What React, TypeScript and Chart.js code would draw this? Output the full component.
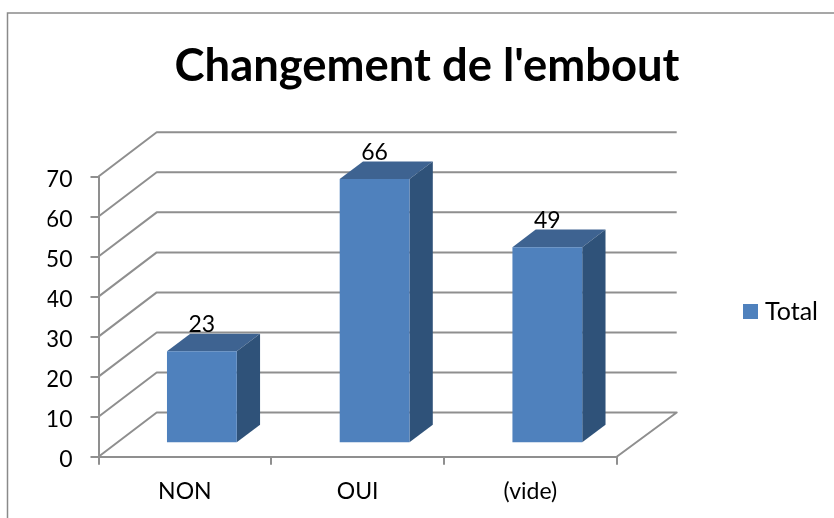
import React, { useEffect, useRef } from "react";
import { Chart, registerables } from "chart.js";

Chart.register(...registerables);

const categories = ["NON", "OUI", "(vide)"];
const seriesName = "Total";
const totals = [23, 66, 49];
const yMax = 70;
const yStep = 10;

const FONT = "Lato, Carlito, sans-serif";
const LINE = "#8f8f8f";
const FRONT = "#4F81BD";
const TOP = "#3E6391";
const SIDE = "#2F5279";
const WALL_DX = 58.2;
const WALL_DY = -44.2;
const WALL_RIGHT_EXTRA = 1.8;
const BAR_DX = 17;
const BAR_DY = -13.4;
const BAR_DEPTH_X = 23.3;
const BAR_DEPTH_Y = -17.6;
const LEGEND_LEFT = 748.5;
const LEGEND_CENTER_Y = 311.5;

const scene = {
  id: "scene",
  beforeDraw(chart: any) {
    const { ctx, width, height } = chart;
    ctx.save();
    ctx.strokeStyle = "#8a8a8a";
    ctx.lineWidth = 1.5;
    ctx.beginPath();
    ctx.moveTo(7.5, height);
    ctx.lineTo(7.5, 13);
    ctx.lineTo(width, 13);
    ctx.stroke();
    ctx.restore();
  },
  beforeDatasetsDraw(chart: any) {
    const { ctx, chartArea, scales } = chart;
    const { left, right } = chartArea;
    ctx.save();
    ctx.strokeStyle = LINE;
    ctx.lineWidth = 2;
    ctx.lineJoin = "round";
    for (const t of scales.y.ticks) {
      const y = scales.y.getPixelForValue(t.value);
      const backRight = right + WALL_DX + WALL_RIGHT_EXTRA;
      ctx.beginPath();
      ctx.moveTo(left, y);
      ctx.lineTo(left + WALL_DX, y + WALL_DY);
      ctx.lineTo(backRight, y + WALL_DY);
      if (t.value === 0) ctx.lineTo(right, y);
      ctx.stroke();
    }
    ctx.restore();

    ctx.save();
    ctx.translate(BAR_DX, BAR_DY);
    for (const bar of chart.getDatasetMeta(0).data) {
      const { x, y, base, width: w } = bar.getProps(["x", "y", "base", "width"], true);
      const l = x - w / 2;
      const r = x + w / 2;
      ctx.fillStyle = TOP;
      ctx.beginPath();
      ctx.moveTo(l, y);
      ctx.lineTo(l + BAR_DEPTH_X, y + BAR_DEPTH_Y);
      ctx.lineTo(r + BAR_DEPTH_X, y + BAR_DEPTH_Y);
      ctx.lineTo(r, y);
      ctx.closePath();
      ctx.fill();
      ctx.fillStyle = SIDE;
      ctx.beginPath();
      ctx.moveTo(r, y);
      ctx.lineTo(r + BAR_DEPTH_X, y + BAR_DEPTH_Y);
      ctx.lineTo(r + BAR_DEPTH_X, base + BAR_DEPTH_Y);
      ctx.lineTo(r, base);
      ctx.closePath();
      ctx.fill();
    }
  },
  afterDatasetsDraw(chart: any) {
    const { ctx } = chart;
    ctx.restore();
    ctx.save();
    ctx.fillStyle = "#000";
    ctx.font = `23px ${FONT}`;
    ctx.textAlign = "center";
    ctx.textBaseline = "alphabetic";
    chart.getDatasetMeta(0).data.forEach((bar: any, i: number) => {
      const { x, y } = bar.getProps(["x", "y"], true);
      ctx.fillText(String(totals[i]), x + BAR_DX, y + BAR_DY - 19.5);
    });
    ctx.restore();
  },
  afterLayout(chart: any) {
    const lg = chart.legend;
    const pad = lg.options.labels.padding;
    lg.left = LEGEND_LEFT - pad;
    lg.right = chart.width;
    const h = lg.bottom - lg.top;
    lg.top = LEGEND_CENTER_Y - h / 2;
    lg.bottom = lg.top + h;
  },
};

export default function App() {
  const ref = useRef<HTMLCanvasElement>(null);
  useEffect(() => {
    const chart = new Chart(ref.current!, {
      type: "bar",
      data: {
        labels: categories,
        datasets: [
          {
            label: seriesName,
            data: totals,
            backgroundColor: FRONT,
            borderWidth: 0,
            categoryPercentage: 1,
            barPercentage: 0.404,
          },
        ],
      },
      options: {
        animation: false,
        responsive: false,
        events: [],
        layout: { padding: { left: 47.6, right: 27.6, top: 0, bottom: 0 } },
        plugins: {
          tooltip: { enabled: false },
          title: {
            display: true,
            text: "Changement de l'embout",
            color: "#000",
            font: { family: FONT, size: 45.4, weight: "bold", lineHeight: 1 },
            padding: { top: 44, bottom: 87.1 },
          },
          legend: {
            position: "right",
            labels: {
              color: "#000",
              font: { family: FONT, size: 25 },
              boxWidth: 4,
              boxHeight: 4,
              padding: 153.8,
              generateLabels: () => [
                {
                  text: seriesName,
                  fillStyle: FRONT,
                  strokeStyle: FRONT,
                  lineWidth: 11,
                  hidden: false,
                  datasetIndex: 0,
                },
              ],
            },
          },
        },
        scales: {
          x: {
            afterFit: (s: any) => {
              s.height = 61.3;
            },
            grid: {
              offset: true,
              drawOnChartArea: false,
              drawTicks: true,
              tickLength: 8,
              color: LINE,
              lineWidth: 2,
            },
            border: { color: LINE, width: 2 },
            ticks: { color: "#000", font: { family: FONT, size: 23 }, padding: 13, maxRotation: 0 },
          },
          y: {
            min: 0,
            max: yMax,
            afterFit: (s: any) => {
              s.width = 50.9;
            },
            grid: {
              drawOnChartArea: false,
              drawTicks: true,
              tickLength: 8,
              color: LINE,
              lineWidth: 2,
            },
            border: { color: LINE, width: 2 },
            ticks: { stepSize: yStep, color: "#000", font: { family: FONT, size: 23 }, padding: 18, labelOffset: 3 },
          },
        },
      },
      plugins: [scene],
    } as any);
    return () => chart.destroy();
  }, []);
  return (
    <div style={{ position: "fixed", left: 0, top: 0, width: 834, height: 518, background: "#fff" }}>
      <canvas ref={ref} width={834} height={518} style={{ display: "block" }} />
    </div>
  );
}
